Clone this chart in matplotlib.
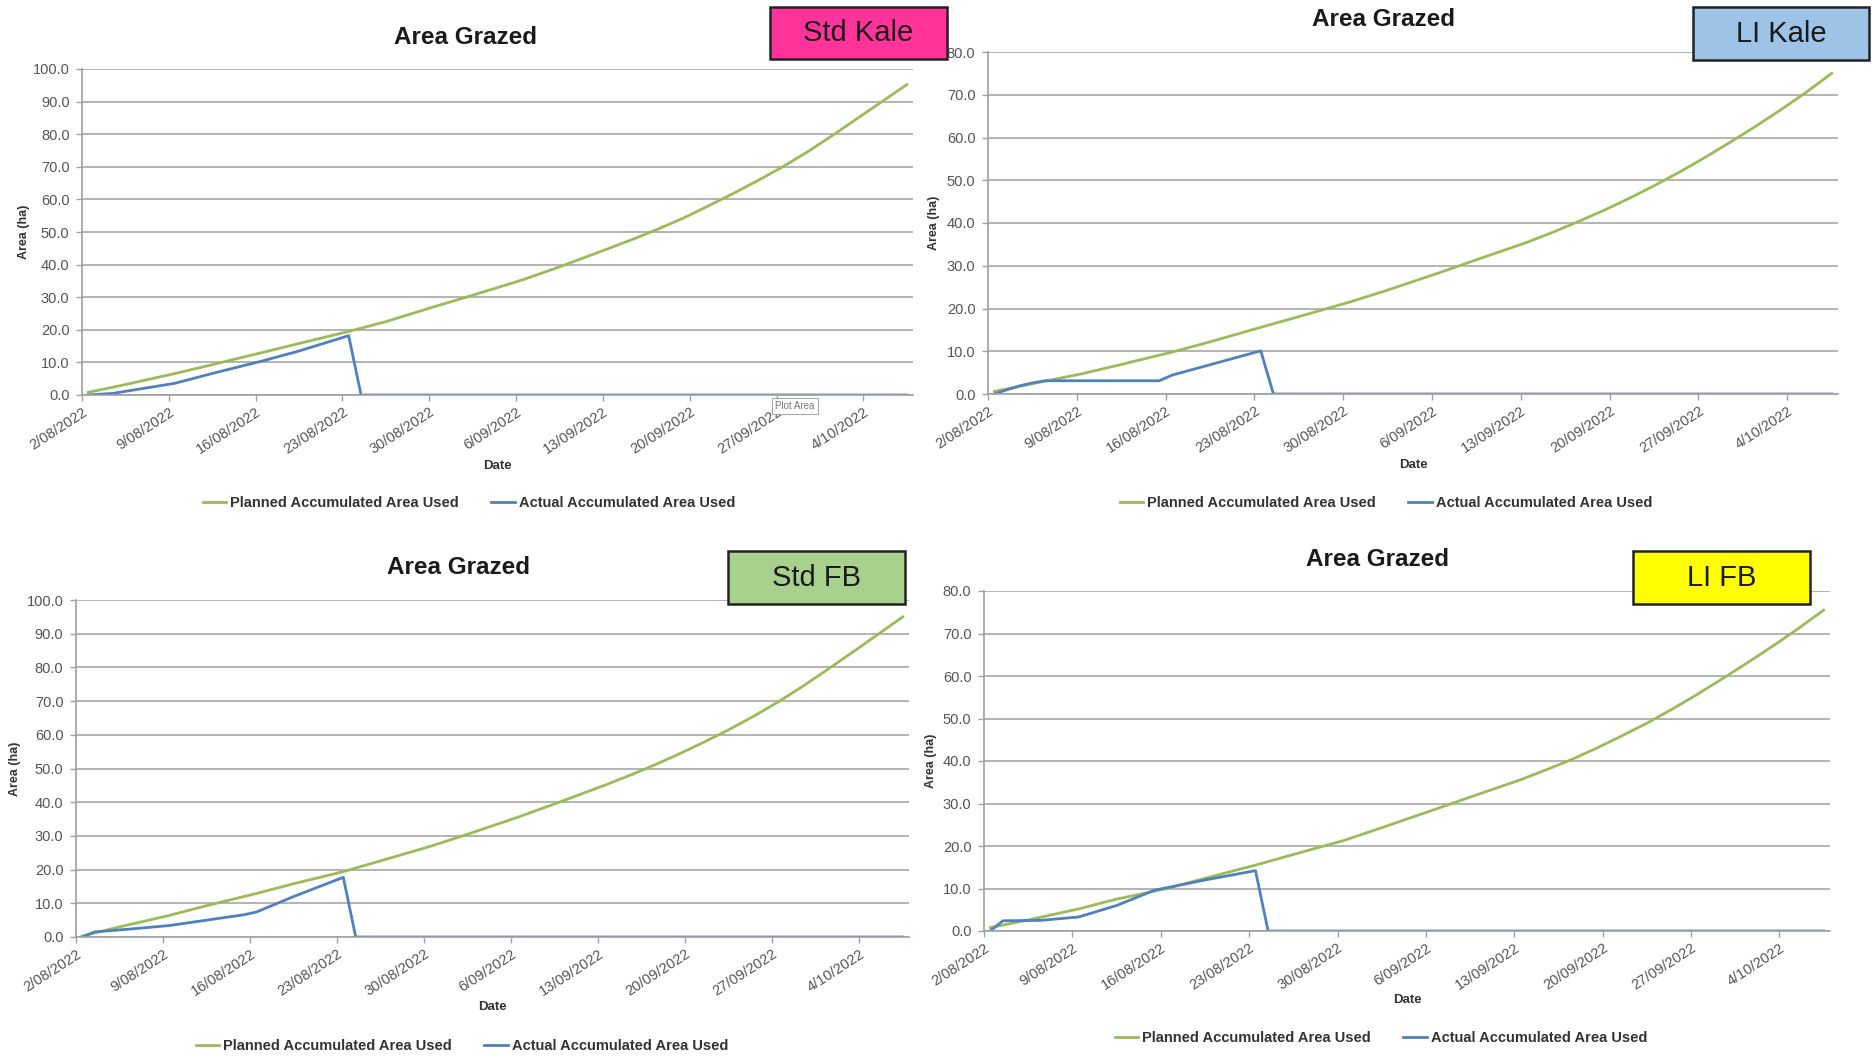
import matplotlib
matplotlib.use("Agg")
import matplotlib.pyplot as plt
from matplotlib.patches import Rectangle

plt.rcParams['font.family'] = ['Liberation Sans', 'DejaVu Sans']

W, H = 1874, 1057

# date axis: day 0 = 2/08/2022, one category per day
N_DAYS = 67
TICK_DAYS = [0, 7, 14, 21, 28, 35, 42, 49, 56, 63]
TICK_LABELS = ['2/08/2022', '9/08/2022', '16/08/2022', '23/08/2022', '30/08/2022',
               '6/09/2022', '13/09/2022', '20/09/2022', '27/09/2022', '4/10/2022']

PLAN_LABEL = 'Planned Accumulated Area Used'
ACTUAL_LABEL = 'Actual Accumulated Area Used'

# Std Kale
std_kale_plan_days = [0, 3, 7, 10, 14, 17, 21, 24, 28, 31, 35, 38, 42, 44, 46, 48, 50,
                      52, 54, 56, 58, 60, 62, 64, 66]
std_kale_plan = [0.8, 3.2, 6.6, 9.3, 13.0, 15.8, 19.5, 22.5, 27.2, 30.6, 35.3, 39.3, 45.0,
                 47.9, 51.0, 54.3, 58.0, 61.8, 65.8, 70.0, 74.6, 79.6, 84.8, 90.0, 95.2]
std_kale_actual_days = [0, 2, 7, 10, 14, 17, 21, 22, 66]
std_kale_actual = [0.0, 0.5, 3.6, 6.6, 10.4, 13.5, 18.2, 0.0, 0.0]

# LI Kale
li_kale_plan_days = [0, 3, 7, 10, 14, 17, 21, 24, 28, 31, 35, 38, 42, 44, 46, 48, 50,
                     52, 54, 56, 58, 60, 62, 64, 66]
li_kale_plan = [0.6, 2.4, 4.8, 6.9, 9.8, 12.2, 15.6, 18.1, 21.5, 24.3, 28.3, 31.4, 35.5,
                37.8, 40.3, 42.9, 45.7, 48.7, 51.9, 55.3, 58.9, 62.6, 66.5, 70.6, 75.0]
li_kale_actual_days = [0, 1, 2, 3, 4, 13, 14, 21, 22, 66]
li_kale_actual = [0.0, 1.0, 1.9, 2.6, 3.1, 3.1, 4.4, 10.1, 0.0, 0.0]

# Std FB
std_fb_plan_days = [0, 3, 7, 10, 14, 17, 21, 24, 28, 31, 35, 38, 42, 44, 46, 48, 50,
                    52, 54, 56, 58, 60, 62, 64, 66]
std_fb_plan = [0.3, 3.0, 6.4, 9.3, 12.9, 15.8, 19.4, 22.6, 26.9, 30.5, 35.5, 39.5, 45.0,
               47.9, 51.0, 54.3, 57.8, 61.5, 65.5, 69.8, 74.5, 79.5, 84.6, 89.8, 95.0]
std_fb_actual_days = [0, 1, 4, 7, 10, 13, 14, 17, 21, 22, 66]
std_fb_actual = [0.0, 1.5, 2.4, 3.4, 5.0, 6.6, 7.4, 12.0, 17.7, 0.0, 0.0]

# LI FB
li_fb_plan_days = [0, 3, 7, 10, 14, 17, 21, 24, 28, 31, 35, 38, 42, 44, 46, 48, 50,
                   52, 54, 56, 58, 60, 62, 64, 66]
li_fb_plan = [0.8, 2.6, 5.2, 7.5, 10.0, 12.4, 15.5, 18.0, 21.3, 24.3, 28.4, 31.5, 35.6,
              37.9, 40.3, 43.0, 45.9, 48.9, 52.2, 55.7, 59.4, 63.2, 67.1, 71.2, 75.5]
li_fb_actual_days = [0, 1, 4, 7, 10, 13, 14, 17, 21, 22, 66]
li_fb_actual = [0.0, 2.4, 2.5, 3.3, 6.0, 9.6, 10.2, 12.0, 14.2, 0.0, 0.0]

GREEN = '#9BBB59'
BLUE = '#4F81BD'
GRID = '#b3b3b3'

# pixel layout of each chart: plot box (l, t, r, b), y max, title, tag box, label positions
panels = [
    dict(plan=(std_kale_plan_days, std_kale_plan), actual=(std_kale_actual_days, std_kale_actual),
         box=(82, 69, 913, 395), ymax=100, title=(466, 37),
         tag='Std Kale', tag_box=(770, 7, 947, 59), tag_color='#FF3399',
         ylab_x=24, date_y=466, legend=(469, 503)),
    dict(plan=(li_kale_plan_days, li_kale_plan), actual=(li_kale_actual_days, li_kale_actual),
         box=(988, 52, 1838, 394), ymax=80, title=(1384, 20),
         tag='LI Kale', tag_box=(1693, 7, 1869, 60), tag_color='#9DC3E6',
         ylab_x=934, date_y=465, legend=(1386, 503)),
    dict(plan=(std_fb_plan_days, std_fb_plan), actual=(std_fb_actual_days, std_fb_actual),
         box=(76, 600, 909, 937), ymax=100, title=(459, 568),
         tag='Std FB', tag_box=(728, 551, 905, 604), tag_color='#A9D18E',
         ylab_x=15, date_y=1007, legend=(462, 1046)),
    dict(plan=(li_fb_plan_days, li_fb_plan), actual=(li_fb_actual_days, li_fb_actual),
         box=(984, 591, 1830, 931), ymax=80, title=(1378, 559),
         tag='LI FB', tag_box=(1633, 551, 1810, 604), tag_color='#FFFF00',
         ylab_x=931, date_y=1000, legend=(1381, 1038)),
]


def fx(x):
    return x / W


def fy(y):
    return 1 - y / H


fig = plt.figure(figsize=(W / 100, H / 100), dpi=100)

for p in panels:
    l, t, r, b = p['box']
    ax = fig.add_axes([fx(l), fy(b), (r - l) / W, (b - t) / H])

    # points sit in the middle of each day category
    pd_, pv = p['plan']
    ad, av = p['actual']
    g, = ax.plot([d + 0.5 for d in pd_], pv, color=GREEN, lw=2.0, solid_joinstyle='round')
    bl, = ax.plot([d + 0.5 for d in ad], av, color=BLUE, lw=2.0, solid_joinstyle='round')

    ax.set_xlim(0, N_DAYS)
    ax.set_ylim(0, p['ymax'])
    ax.set_yticks(range(0, p['ymax'] + 1, 10))
    ax.set_yticklabels(['%.1f' % v for v in range(0, p['ymax'] + 1, 10)])
    ax.set_xticks(TICK_DAYS)
    ax.set_xticklabels(TICK_LABELS, rotation=33, ha='right', va='top', rotation_mode='anchor')

    ax.yaxis.grid(True, color=GRID, lw=1.4)
    ax.set_axisbelow(True)
    for s in ['top', 'right']:
        ax.spines[s].set_visible(False)
    for s in ['left', 'bottom']:
        ax.spines[s].set_color('#a0a0a0')
        ax.spines[s].set_linewidth(1.2)
    ax.tick_params(axis='both', colors='#a0a0a0', labelcolor='#555555', labelsize=10.5,
                   length=4, width=1.0)
    ax.tick_params(axis='y', pad=5)
    ax.tick_params(axis='x', pad=3)

    fig.text(fx(p['title'][0]), fy(p['title'][1]), 'Area Grazed', ha='center', va='center',
             fontsize=17.5, fontweight='bold', color='#1a1a1a')
    fig.text(fx(p['ylab_x']), fy((t + b) / 2), 'Area (ha)', rotation=90, ha='center',
             va='center', fontsize=9, fontweight='bold', color='#333333')
    fig.text(fx((l + r) / 2), fy(p['date_y']), 'Date', ha='center', va='center',
             fontsize=9.5, fontweight='bold', color='#333333')

    tl, tt, tr, tb = p['tag_box']
    fig.add_artist(Rectangle((fx(tl), fy(tb)), (tr - tl) / W, (tb - tt) / H,
                             transform=fig.transFigure, facecolor=p['tag_color'],
                             edgecolor='#222222', lw=1.8, zorder=5))
    fig.text(fx((tl + tr) / 2), fy((tt + tb) / 2), p['tag'], ha='center', va='center',
             fontsize=21, color='#1a1a1a', zorder=6)

    fig.legend([g, bl], [PLAN_LABEL, ACTUAL_LABEL], loc='center', ncol=2, frameon=False,
               bbox_to_anchor=(fx(p['legend'][0]), fy(p['legend'][1])),
               prop={'size': 10.5, 'weight': 'bold'}, labelcolor='#333333',
               handlelength=1.6, handletextpad=0.3, columnspacing=2.2)

# Excel tooltip left over on the first chart
fig.text(fx(795), fy(406), 'Plot Area', ha='center', va='center', fontsize=7, color='#777777',
         bbox=dict(boxstyle='square,pad=0.3', facecolor='white', edgecolor='#aaaaaa', lw=0.8))

fig.savefig('out.png', dpi=100)
